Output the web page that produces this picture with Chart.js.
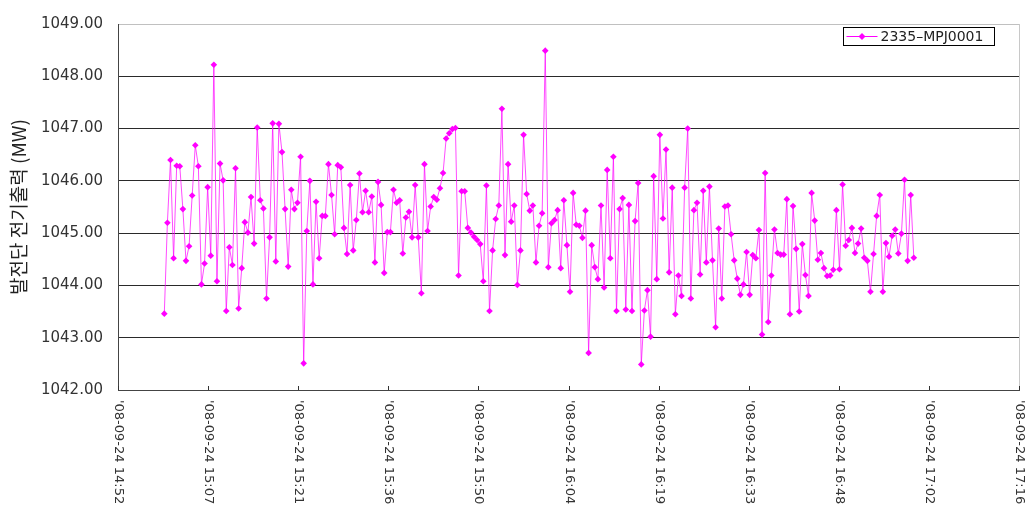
<!DOCTYPE html>
<html>
<head>
<meta charset="utf-8">
<script src="https://cdn.jsdelivr.net/npm/chart.js@4.4.1/dist/chart.umd.min.js"></script>
<style>
  html, body { margin: 0; padding: 0; background: #fff; }
  #wrap { width: 1031px; height: 505px; }
</style>
</head>
<body>
<div id="wrap"><canvas id="powerChart" width="1031" height="505"></canvas></div>
<script>
// 30 s samples of generator output
const seriesName = '2335–MPJ0001';
const axisTitle = '발전단 전기출력 (MW)';
const tickLabels = ["'08-09-24 14:52", "'08-09-24 15:07", "'08-09-24 15:21", "'08-09-24 15:36",
  "'08-09-24 15:50", "'08-09-24 16:04", "'08-09-24 16:19", "'08-09-24 16:33",
  "'08-09-24 16:48", "'08-09-24 17:02", "'08-09-24 17:16"];
const tickStepMin = 14.4;     // minutes between axis labels
const firstSampleMin = 7.4;   // first sample, minutes after 14:52
const sampleMin = 0.495;      // sampling interval in minutes
const yMin = 1042, yMax = 1049;

const output = [
  1043.46, 1045.20, 1046.40, 1044.52, 1046.29, 1046.28, 1045.46, 1044.47, 1044.75, 1045.72,
  1046.68, 1046.28, 1044.02, 1044.42, 1045.88, 1044.57, 1048.22, 1044.08, 1046.33, 1046.01,
  1043.51, 1044.73, 1044.39, 1046.24, 1043.56, 1044.33, 1045.21, 1045.01, 1045.69, 1044.80,
  1047.02, 1045.63, 1045.47, 1043.75, 1044.92, 1047.10, 1044.46, 1047.09, 1046.55, 1045.46,
  1044.36, 1045.83, 1045.46, 1045.58, 1046.46, 1042.51, 1045.04, 1046.00, 1044.02, 1045.60,
  1044.52, 1045.33, 1045.33, 1046.32, 1045.73, 1044.98, 1046.30, 1046.26, 1045.10, 1044.60,
  1045.92, 1044.67, 1045.25, 1046.14, 1045.40, 1045.81, 1045.40, 1045.70, 1044.44, 1045.98,
  1045.54, 1044.24, 1045.02, 1045.02, 1045.83, 1045.58, 1045.63, 1044.61, 1045.30, 1045.41,
  1044.92, 1045.92, 1044.92, 1043.85, 1046.32, 1045.04, 1045.51, 1045.69, 1045.64, 1045.86,
  1046.15, 1046.81, 1046.91, 1046.99, 1047.01, 1044.19, 1045.80, 1045.80, 1045.10, 1045.01,
  1044.93, 1044.87, 1044.79, 1044.08, 1045.91, 1043.51, 1044.67, 1045.27, 1045.53, 1047.38,
  1044.58, 1046.32, 1045.22, 1045.53, 1044.01, 1044.67, 1046.88, 1045.75, 1045.43, 1045.53,
  1044.44, 1045.14, 1045.38, 1048.49, 1044.35, 1045.19, 1045.25, 1045.44, 1044.33, 1045.63,
  1044.77, 1043.88, 1045.77, 1045.16, 1045.14, 1044.91, 1045.43, 1042.71, 1044.77, 1044.35,
  1044.12, 1045.53, 1043.96, 1046.21, 1044.52, 1046.46, 1043.51, 1045.46, 1045.67, 1043.54,
  1045.54, 1043.51, 1045.23, 1045.96, 1042.49, 1043.52, 1043.91, 1043.02, 1046.09, 1044.12,
  1046.88, 1045.28, 1046.60, 1044.25, 1045.87, 1043.45, 1044.19, 1043.80, 1045.87, 1047.00,
  1043.75, 1045.44, 1045.58, 1044.21, 1045.81, 1044.44, 1045.89, 1044.48, 1043.20, 1045.09,
  1043.75, 1045.51, 1045.53, 1044.98, 1044.48, 1044.13, 1043.82, 1044.02, 1044.64, 1043.82,
  1044.58, 1044.52, 1045.06, 1043.06, 1046.15, 1043.30, 1044.19, 1045.07, 1044.62, 1044.59,
  1044.59, 1045.65, 1043.45, 1045.52, 1044.70, 1043.50, 1044.79, 1044.20, 1043.80, 1045.77,
  1045.24, 1044.49, 1044.62, 1044.33, 1044.18, 1044.19, 1044.30, 1045.44, 1044.31, 1045.93,
  1044.76, 1044.87, 1045.10, 1044.62, 1044.80, 1045.09, 1044.53, 1044.47, 1043.88, 1044.60,
  1045.33, 1045.73, 1043.88, 1044.81, 1044.55, 1044.95, 1045.07, 1044.61, 1044.99, 1046.02,
  1044.47, 1045.73, 1044.53
];

const points = output.map((v, i) => ({ x: firstSampleMin + i * sampleMin, y: v }));
const magenta = '#ff00ff';

// x labels read top-down, plus inside tick marks, right border and the boxed legend
const excelLook = {
  id: 'excelLook',
  afterDraw(chart) {
    const { ctx, chartArea: a } = chart;
    const xs = chart.scales.x;
    ctx.save();
    ctx.strokeStyle = '#c8c8c8';
    ctx.lineWidth = 1;
    ctx.beginPath();
    ctx.moveTo(a.right + 0.5, a.top);
    ctx.lineTo(a.right + 0.5, a.bottom);
    ctx.stroke();

    ctx.strokeStyle = '#333';
    ctx.fillStyle = '#333';
    ctx.font = '13px "DejaVu Sans"';
    ctx.textAlign = 'left';
    ctx.textBaseline = 'middle';
    tickLabels.forEach((lab, i) => {
      const px = Math.round(xs.getPixelForValue(i * tickStepMin)) + 0.5;
      ctx.beginPath();
      ctx.moveTo(px, a.bottom);
      ctx.lineTo(px, a.bottom - 4);
      ctx.stroke();
      ctx.save();
      ctx.translate(px, a.bottom + 10);
      ctx.rotate(Math.PI / 2);
      ctx.fillText(lab, 0, 0);
      ctx.restore();
    });

    // legend box
    const lx = 843.5, ly = 27.5, lw = 151, lh = 18;
    ctx.fillStyle = '#fff';
    ctx.fillRect(lx, ly, lw, lh);
    ctx.strokeStyle = '#000';
    ctx.strokeRect(lx, ly, lw, lh);
    const cy = ly + lh / 2;
    ctx.strokeStyle = magenta;
    ctx.beginPath();
    ctx.moveTo(lx + 3, cy);
    ctx.lineTo(lx + 34, cy);
    ctx.stroke();
    ctx.fillStyle = magenta;
    ctx.beginPath();
    ctx.moveTo(lx + 18.5, cy - 3.5);
    ctx.lineTo(lx + 22, cy);
    ctx.lineTo(lx + 18.5, cy + 3.5);
    ctx.lineTo(lx + 15, cy);
    ctx.closePath();
    ctx.fill();
    ctx.fillStyle = '#222';
    ctx.font = '14px "DejaVu Sans"';
    ctx.fillText(seriesName, lx + 37, cy + 1);
    ctx.restore();
  }
};

new Chart(document.getElementById('powerChart').getContext('2d'), {
  type: 'line',
  data: {
    datasets: [{
      label: seriesName,
      data: points,
      borderColor: 'rgba(255, 0, 255, 0.7)',
      borderWidth: 1,
      backgroundColor: magenta,
      pointStyle: 'rectRot',
      pointRadius: 3.3,
      pointBorderWidth: 0,
      pointBackgroundColor: magenta,
      tension: 0,
      fill: false
    }]
  },
  options: {
    responsive: false,
    animation: false,
    layout: { padding: { left: 0, right: 12, top: 12, bottom: 0 } },
    plugins: {
      legend: { display: false },
      tooltip: { enabled: false }
    },
    scales: {
      x: {
        type: 'linear',
        min: 0,
        max: tickStepMin * (tickLabels.length - 1),
        afterBuildTicks: s => { s.ticks = tickLabels.map((l, i) => ({ value: i * tickStepMin })); },
        afterFit: s => { s.height = 115; },
        ticks: { display: false },
        grid: { display: false },
        border: { color: '#444', width: 1 }
      },
      y: {
        min: yMin,
        max: yMax,
        afterFit: s => { s.width = 118; },
        ticks: {
          stepSize: 1,
          padding: 15,
          color: '#333',
          font: { family: 'DejaVu Sans', size: 15 },
          callback: v => v.toFixed(2)
        },
        grid: {
          drawTicks: false,
          color: c => (c.tick && c.tick.value === yMax) ? '#c0c0c0' : '#2a2a2a',
          lineWidth: 1
        },
        border: { color: '#444', width: 1 },
        title: {
          display: true,
          text: axisTitle,
          color: '#222',
          padding: { top: 7, bottom: 4 },
          font: { family: 'Noto Sans CJK KR', size: 19 }
        }
      }
    }
  },
  plugins: [excelLook]
});
</script>
</body>
</html>
